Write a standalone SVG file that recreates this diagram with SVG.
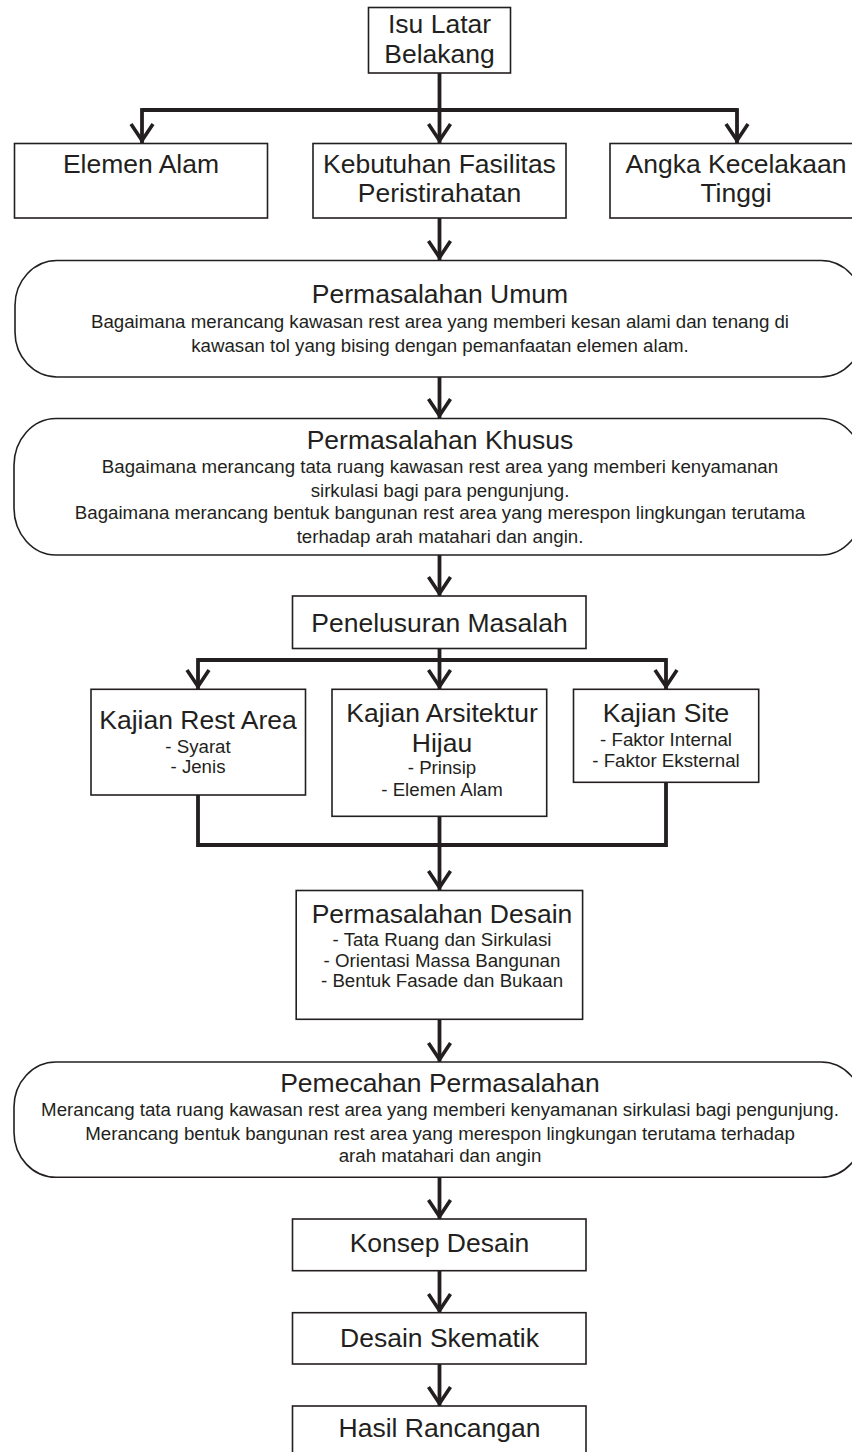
<svg xmlns="http://www.w3.org/2000/svg" width="852" height="1452" viewBox="0 0 852 1452">
<style>
.bx{fill:#fff;stroke:#231f20;stroke-width:1.6}
.t{font-family:"Liberation Sans",Arial,sans-serif;font-size:26.5px;fill:#231f20;text-anchor:middle}
.s{font-family:"Liberation Sans",Arial,sans-serif;font-size:18.7px;fill:#231f20;text-anchor:middle}
.c{fill:none;stroke:#231f20;stroke-width:3.8;stroke-linecap:butt;stroke-linejoin:miter}
</style>
<defs>
<marker id="ah" markerUnits="userSpaceOnUse" orient="auto" refX="0" refY="0" markerWidth="40" markerHeight="40" overflow="visible">
<path d="M-19,-11 L-2.5,0 L-19,11" fill="none" stroke="#231f20" stroke-width="3.6" stroke-linejoin="miter"/>
</marker>
</defs>
<rect width="852" height="1452" fill="#fff"/>
<g id="connectors">
<path class="c" d="M439.5,73 V110"/>
<path class="c" d="M142,110 H737"/>
<path class="c" d="M142,108.1 V143" marker-end="url(#ah)"/>
<path class="c" d="M439.5,110 V143" marker-end="url(#ah)"/>
<path class="c" d="M737,108.1 V143" marker-end="url(#ah)"/>
<path class="c" d="M439.5,218 V260" marker-end="url(#ah)"/>
<path class="c" d="M439.5,377 V418" marker-end="url(#ah)"/>
<path class="c" d="M439.5,555 V596" marker-end="url(#ah)"/>
<path class="c" d="M439.5,648 V660"/>
<path class="c" d="M198,660 H666"/>
<path class="c" d="M198,658.1 V689" marker-end="url(#ah)"/>
<path class="c" d="M439.5,660 V689" marker-end="url(#ah)"/>
<path class="c" d="M666,658.1 V689" marker-end="url(#ah)"/>
<path class="c" d="M198,795 V845 H666 V782"/>
<path class="c" d="M439.5,816 V845"/>
<path class="c" d="M439.5,845 V890" marker-end="url(#ah)"/>
<path class="c" d="M439.5,1019 V1062" marker-end="url(#ah)"/>
<path class="c" d="M439.5,1177 V1219" marker-end="url(#ah)"/>
<path class="c" d="M439.5,1271 V1313" marker-end="url(#ah)"/>
<path class="c" d="M439.5,1364 V1406" marker-end="url(#ah)"/>
</g>
<g id="isu">
<rect class="bx" x="368.5" y="7.5" width="142" height="65.5"/>
<text class="t" x="439.5" y="33">Isu Latar</text>
<text class="t" x="439.5" y="62.5">Belakang</text>
</g>
<g id="elemen-alam">
<rect class="bx" x="14.5" y="143.5" width="253" height="74.5"/>
<text class="t" x="141" y="172.7">Elemen Alam</text>
</g>
<g id="kebutuhan">
<rect class="bx" x="313" y="143.5" width="253" height="74.5"/>
<text class="t" x="439.5" y="172.7">Kebutuhan Fasilitas</text>
<text class="t" x="439.5" y="201.7">Peristirahatan</text>
</g>
<g id="angka">
<rect class="bx" x="610" y="143.5" width="252" height="74.5"/>
<text class="t" x="736" y="172.7">Angka Kecelakaan</text>
<text class="t" x="736" y="201.7">Tinggi</text>
</g>
<g id="umum">
<rect class="bx" x="15" y="260.5" width="848" height="116.5" rx="42" ry="45"/>
<text class="t" x="440" y="303.3">Permasalahan Umum</text>
<text class="s" x="440" y="328.3">Bagaimana merancang kawasan rest area yang memberi kesan alami dan tenang di</text>
<text class="s" x="440" y="351.7">kawasan tol yang bising dengan pemanfaatan elemen alam.</text>
</g>
<g id="khusus">
<rect class="bx" x="14" y="418.5" width="849" height="136.5" rx="42" ry="47"/>
<text class="t" x="440" y="449.3">Permasalahan Khusus</text>
<text class="s" x="440" y="473.3">Bagaimana merancang tata ruang kawasan rest area yang memberi kenyamanan</text>
<text class="s" x="440" y="496.7">sirkulasi bagi para pengunjung.</text>
<text class="s" x="440" y="519.3">Bagaimana merancang bentuk bangunan rest area yang merespon lingkungan terutama</text>
<text class="s" x="440" y="542.7">terhadap arah matahari dan angin.</text>
</g>
<g id="penelusuran">
<rect class="bx" x="292.5" y="596" width="293.5" height="52.5"/>
<text class="t" x="439.5" y="631.7">Penelusuran Masalah</text>
</g>
<g id="kajian-rest-area">
<rect class="bx" x="91" y="689.3" width="214.5" height="105.7"/>
<text class="t" x="198" y="729">Kajian Rest Area</text>
<text class="s" x="198" y="752.7">- Syarat</text>
<text class="s" x="198" y="773.3">- Jenis</text>
</g>
<g id="kajian-arsitektur">
<rect class="bx" x="332" y="689.3" width="214.7" height="127"/>
<text class="t" x="442" y="721.7">Kajian Arsitektur</text>
<text class="t" x="442" y="751.7">Hijau</text>
<text class="s" x="442" y="774">- Prinsip</text>
<text class="s" x="442" y="796">- Elemen Alam</text>
</g>
<g id="kajian-site">
<rect class="bx" x="573.5" y="689.3" width="185.2" height="93"/>
<text class="t" x="666" y="722.3">Kajian Site</text>
<text class="s" x="666" y="746">- Faktor Internal</text>
<text class="s" x="666" y="766.7">- Faktor Eksternal</text>
</g>
<g id="permasalahan-desain">
<rect class="bx" x="296.2" y="890.5" width="286.4" height="128.8"/>
<text class="t" x="442" y="923.3">Permasalahan Desain</text>
<text class="s" x="442" y="946">- Tata Ruang dan Sirkulasi</text>
<text class="s" x="442" y="967.3">- Orientasi Massa Bangunan</text>
<text class="s" x="442" y="987.3">- Bentuk Fasade dan Bukaan</text>
</g>
<g id="pemecahan">
<rect class="bx" x="14" y="1062" width="849" height="115.3" rx="42" ry="45"/>
<text class="t" x="440" y="1091.7">Pemecahan Permasalahan</text>
<text class="s" x="440" y="1116">Merancang tata ruang kawasan rest area yang memberi kenyamanan sirkulasi bagi pengunjung.</text>
<text class="s" x="440" y="1140">Merancang bentuk bangunan rest area yang merespon lingkungan terutama terhadap</text>
<text class="s" x="440" y="1161.7">arah matahari dan angin</text>
</g>
<g id="konsep">
<rect class="bx" x="292.5" y="1219" width="293.5" height="51.7"/>
<text class="t" x="439.5" y="1251.7">Konsep Desain</text>
</g>
<g id="skematik">
<rect class="bx" x="292.5" y="1312.7" width="293.5" height="51.3"/>
<text class="t" x="439.5" y="1346.7">Desain Skematik</text>
</g>
<g id="hasil">
<rect class="bx" x="292.5" y="1406" width="293.5" height="60"/>
<text class="t" x="439.5" y="1437.3">Hasil Rancangan</text>
</g>
</svg>
